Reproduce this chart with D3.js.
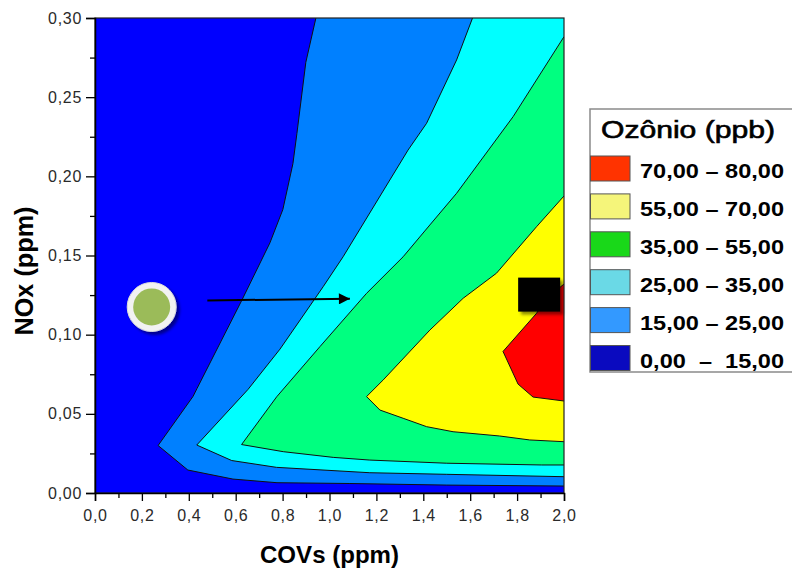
<!DOCTYPE html>
<html><head><meta charset="utf-8">
<script src="https://cdn.jsdelivr.net/npm/d3@7"></script>
<style>
body{margin:0;background:#fff}
svg{display:block}
text{font-family:"Liberation Sans",Arial,sans-serif}
</style>
</head><body>
<svg id="chart" width="792" height="572"></svg>
<script>
// ---------- data ----------
const covTicks = [0, 0.2, 0.4, 0.6, 0.8, 1.0, 1.2, 1.4, 1.6, 1.8, 2.0];
const covMinor = [0.1, 0.3, 0.5, 0.7, 0.9, 1.1, 1.3, 1.5, 1.7, 1.9];
const noxTicks = [0, 0.05, 0.10, 0.15, 0.20, 0.25, 0.30];
const noxMinor = [0.025, 0.075, 0.125, 0.175, 0.225, 0.275];

// contour boundaries [COVs ppm, NOx ppm], region of higher ozone lies to the right
const boundary15 = [[0.942,0.300],[0.899,0.272],[0.861,0.227],[0.844,0.208],[0.801,0.179],[0.746,0.158],[0.627,0.122],[0.435,0.066],[0.418,0.061],[0.269,0.030],[0.396,0.0145],[0.588,0.0088],[0.776,0.0065],[1.087,0.0060],[1.5,0.0050],[2.0,0.0044]];
const boundary25 = [[1.610,0.300],[1.542,0.2735],[1.414,0.2335],[1.335,0.2166],[1.058,0.1492],[0.973,0.1303],[0.789,0.0909],[0.653,0.0655],[0.434,0.0303],[0.583,0.0205],[0.774,0.0162],[1.172,0.0128],[1.50,0.0118],[2.0,0.0103]];
const boundary35 = [[2.0,0.2882],[1.783,0.2377],[1.542,0.1893],[1.428,0.1693],[1.314,0.1492],[1.158,0.1261],[0.959,0.0924],[0.775,0.0608],[0.625,0.0306],[0.803,0.0261],[1.016,0.0225],[1.172,0.0208],[1.50,0.0188],[1.905,0.0177],[2.0,0.0177]];
const boundary55 = [[2.0,0.1876],[1.883,0.1682],[1.712,0.1388],[1.570,0.1230],[1.428,0.1029],[1.229,0.0714],[1.158,0.0609],[1.215,0.0524],[1.314,0.0472],[1.414,0.0419],[1.527,0.0387],[1.726,0.0360],[1.854,0.0335],[2.0,0.0324]];
const boundary70 = [[2.0,0.132],[1.918,0.1219],[1.883,0.1135],[1.740,0.0894],[1.804,0.0688],[1.868,0.0606],[2.0,0.0581]];
const boundaries = [boundary15, boundary25, boundary35, boundary55, boundary70];

const bandColors = ["#0000FF", "#0080FF", "#00FFFF", "#00FF80", "#FFFF00", "#FF0000"];

const legendTitle = "Ozônio (ppb)";
const legendLabels = ["70,00 – 80,00", "55,00 – 70,00", "35,00 – 55,00", "25,00 – 35,00", "15,00 – 25,00", "0,00  –  15,00"];
const legendColors = ["#FF3300", "#F5F57A", "#19D819", "#6AD9E6", "#3399FF", "#0A0ABF"];

const circlePoint = [0.2417, 0.1175];
const squarePoint = [1.894, 0.1253];
const arrowFrom = [0.479, 0.1216];
const arrowTo = [1.087, 0.1227];

// ---------- layout ----------
const svg = d3.select("#chart");
const x = d3.scaleLinear().domain([0, 2]).range([95, 564]);
const y = d3.scaleLinear().domain([0, 0.3]).range([493, 18]);

const defs = svg.append("defs");
defs.append("clipPath").attr("id", "plotclip").append("rect")
  .attr("x", x(0)).attr("y", y(0.3)).attr("width", x(2) - x(0)).attr("height", y(0) - y(0.3));
const f1 = defs.append("filter").attr("id", "shadow").attr("x", "-30%").attr("y", "-30%").attr("width", "160%").attr("height", "160%");
f1.append("feDropShadow").attr("dx", 3).attr("dy", 3).attr("stdDeviation", 1.5).attr("flood-color", "#000").attr("flood-opacity", 0.45);
defs.append("marker").attr("id", "arrowhead").attr("viewBox", "0 0 10 10")
  .attr("refX", 10).attr("refY", 5).attr("markerWidth", 6).attr("markerHeight", 5.5)
  .attr("markerUnits", "strokeWidth").attr("orient", "auto")
  .append("path").attr("d", "M0,0 L10,5 L0,10 Z").attr("fill", "#000");

const plot = svg.append("g").attr("clip-path", "url(#plotclip)");
plot.append("rect").attr("x", x(0)).attr("y", y(0.3)).attr("width", x(2) - x(0)).attr("height", y(0) - y(0.3))
  .attr("fill", bandColors[0]);

const line = d3.line().x(d => x(d[0])).y(d => y(d[1]));
boundaries.forEach((b, i) => {
  const poly = b.concat([[2.0, b[0][1]]]);
  plot.append("path").attr("d", line(poly) + "Z").attr("fill", bandColors[i + 1]);
});
boundaries.forEach(b => {
  plot.append("path").attr("d", line(b)).attr("fill", "none").attr("stroke", "#101010").attr("stroke-width", 1);
});

// markers
const circ = svg.append("g").attr("transform", `translate(${x(circlePoint[0])},${y(circlePoint[1])})`);
circ.append("circle").attr("r", 24.5).attr("fill", "#f2f2f2").attr("stroke", "#dcdcdc").attr("stroke-width", 1).attr("filter", "url(#shadow)");
circ.append("circle").attr("r", 18.5).attr("fill", "#9BBB59");

svg.append("rect").attr("x", x(squarePoint[0]) - 21).attr("y", y(squarePoint[1]) - 17)
  .attr("width", 42).attr("height", 34).attr("fill", "#000").attr("filter", "url(#shadow)");

svg.append("line").attr("x1", x(arrowFrom[0])).attr("y1", y(arrowFrom[1]))
  .attr("x2", x(arrowTo[0])).attr("y2", y(arrowTo[1]))
  .attr("stroke", "#000").attr("stroke-width", 2).attr("marker-end", "url(#arrowhead)");

// frame
svg.append("rect").attr("x", x(0)).attr("y", y(0.3)).attr("width", x(2) - x(0)).attr("height", y(0) - y(0.3))
  .attr("fill", "none").attr("stroke", "#222").attr("stroke-width", 1.2);

// axes
const fmtY = d => d3.format(".2f")(d).replace(".", ",");
const fmtX = d => d3.format(".1f")(d).replace(".", ",");

const gy = svg.append("g").attr("transform", `translate(${x(0)},0)`)
  .call(d3.axisLeft(y).tickValues(noxTicks).tickSize(9).tickPadding(4).tickFormat(fmtY));
const gyMinor = svg.append("g").attr("transform", `translate(${x(0)},0)`)
  .call(d3.axisLeft(y).tickValues(noxMinor).tickSize(5).tickFormat(""));
const gx = svg.append("g").attr("transform", `translate(0,${y(0)})`)
  .call(d3.axisBottom(x).tickValues(covTicks).tickSize(8).tickPadding(9).tickFormat(fmtX));
const gxMinor = svg.append("g").attr("transform", `translate(0,${y(0)})`)
  .call(d3.axisBottom(x).tickValues(covMinor).tickSize(5).tickFormat(""));

[gy, gx, gyMinor, gxMinor].forEach(g => {
  g.select(".domain").attr("stroke", "#000").attr("stroke-width", 1.5);
  g.selectAll(".tick line").attr("stroke", "#000").attr("stroke-width", 1.3);
  g.selectAll(".tick text").attr("font-size", 16).attr("fill", "#2a2a2a")
    .attr("letter-spacing", 0.7).attr("font-family", '"Liberation Sans", Arial, sans-serif');
});
gyMinor.select(".domain").remove();
gxMinor.select(".domain").remove();

// axis titles
svg.append("text").attr("x", (x(0) + x(2)) / 2).attr("y", 563).attr("text-anchor", "middle")
  .attr("font-size", 24).attr("font-weight", "bold").attr("fill", "#000")
  .attr("textLength", 139).attr("lengthAdjust", "spacingAndGlyphs").text("COVs (ppm)");
svg.append("text").attr("transform", "translate(33,271) rotate(-90)").attr("text-anchor", "middle")
  .attr("font-size", 25).attr("font-weight", "bold").attr("fill", "#000")
  .attr("textLength", 129).attr("lengthAdjust", "spacingAndGlyphs").text("NOx (ppm)");

// legend
const lg = svg.append("g");
lg.append("rect").attr("x", 590).attr("y", 109).attr("width", 260).attr("height", 263)
  .attr("fill", "#fff").attr("stroke", "#8a8a8a").attr("stroke-width", 1.5);
lg.append("text").attr("x", 601).attr("y", 137.5).attr("font-size", 23).attr("fill", "#000")
  .attr("stroke", "#000").attr("stroke-width", 0.6)
  .attr("textLength", 174).attr("lengthAdjust", "spacingAndGlyphs").text(legendTitle);
const rows = lg.selectAll("g.row").data(legendLabels).join("g").attr("class", "row")
  .attr("transform", (d, i) => `translate(0,${156 + i * 37.9})`);
rows.append("rect").attr("x", 590.5).attr("y", 0).attr("width", 39.5).attr("height", 25)
  .attr("fill", (d, i) => legendColors[i]).attr("stroke", "#555").attr("stroke-width", 1);
rows.append("text").attr("x", 640).attr("y", 22).attr("font-size", 21).attr("font-weight", "bold")
  .attr("fill", "#000").style("white-space", "pre")
  .attr("textLength", 144).attr("lengthAdjust", "spacingAndGlyphs").text(d => d);
</script>
</body></html>
